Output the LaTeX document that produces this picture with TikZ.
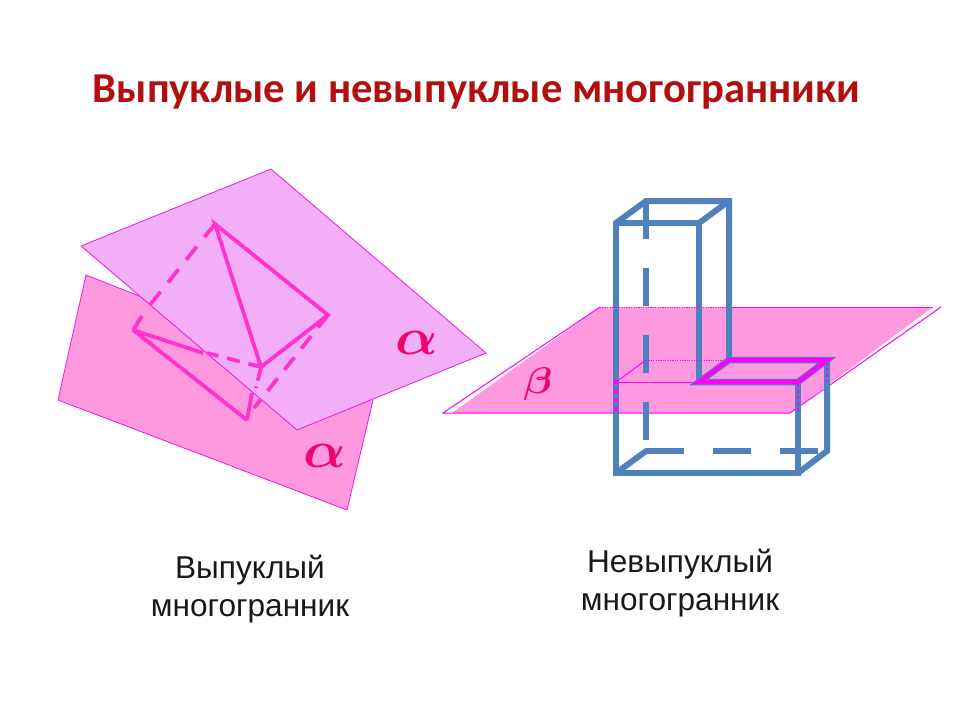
\documentclass[tikz,border=0pt]{standalone}
\usepackage{fontspec}
\usepackage{graphicx}
\setmainfont{Liberation Sans}
\newfontfamily\titlefont{Carlito}
\definecolor{planelow}{HTML}{FF99DF}
\definecolor{planeup}{HTML}{F2AEF6}
\definecolor{planeedge}{HTML}{E61CE6}
\definecolor{tetra}{HTML}{FF33CC}
\definecolor{boxblue}{HTML}{4F81BD}
\definecolor{magentaline}{HTML}{FF00FF}
\definecolor{greek}{HTML}{F0056E}
\definecolor{titlered}{HTML}{B30F0F}
\tikzset{
  tetraline/.style={draw=tetra,line width=3.8pt,line cap=butt},
  tetradash/.style={tetraline,dash pattern=on 17pt off 12pt},
  boxline/.style={draw=boxblue,line width=6pt,line cap=round},
  boxdash/.style={draw=boxblue,line width=6pt,dash pattern=on 38pt off 29pt},
  thinmag/.style={draw=magentaline,line width=1pt},
  dotmag/.style={draw=magentaline,line width=1pt,dash pattern=on 1.2pt off 1.2pt},
  thickdot/.style={draw=magentaline,line width=4pt,dash pattern=on 4pt off 5pt},
  capt/.style={font=\fontsize{31.6}{38}\selectfont,align=center,text=black!90,inner sep=0pt},
  greeklabel/.style={text=greek,inner sep=0pt}
}
\begin{document}
\begin{tikzpicture}[x=1pt,y=-1pt]
\useasboundingbox (0,0) rectangle (960,720);
% title
\node[inner sep=0pt,text=titlered,font=\titlefont\bfseries\fontsize{42.6}{46}\selectfont] (title) at (476.5,92) {Выпуклые и невыпуклые многогранники};
% left: lower plane
\path[fill=planelow,draw=planeedge,line width=0.8pt] (86,275) -- (58,400) -- (347,510) -- (373,400) -- (200,320) -- cycle;
% tetrahedron parts on the lower plane
\coordinate (A) at (215,224);
\coordinate (R) at (328,315);
\coordinate (B) at (261,367);
\coordinate (L) at (133,330);
\coordinate (D) at (247,420);
\draw[tetraline] (L) -- (D);
\draw[tetraline] (L) -- (203,353);
\draw[tetraline] (D) -- (252,393);
\draw[tetraline] (L) -- (142,316);
% left: upper plane
\path[fill=planeup,draw=planeedge,line width=0.8pt] (271,169) -- (81,246) -- (297,430) -- (486,353) -- cycle;
% tetrahedron on the upper plane
\draw[tetraline] (B) -- (A) -- (R) -- cycle;
\draw[tetradash] (A) -- (149,306);
\draw[tetraline,dash pattern=on 13pt off 9pt] (B) -- (207,353);
\draw[tetraline,dash pattern=on 14pt off 6pt] (B) -- (256,388);
\draw[tetraline,dash pattern=on 16pt off 11pt] (R) -- (254,408);
\node[greeklabel] (alphaup) at (417,343) {\scalebox{5.6}[5.2]{\boldmath$\alpha$}};
\node[greeklabel] (alphalow) at (325,456) {\scalebox{5.6}[5.2]{\boldmath$\alpha$}};
% right: plane
\path[fill=planelow] (600,307) -- (933,307) -- (790,413) -- (452,413) -- cycle;
\draw[thinmag] (600,307) -- (443,413) -- (790,413);
\draw[thinmag] (729,307) -- (933,307);
\draw[thinmag] (941,307) -- (790,413);
\node[greeklabel] (beta) at (538,384) {\scalebox{4.2}[3.7]{\boldmath$\beta$}};
% right: box
\draw[boxdash] (646,201) -- (646,451);
\draw[boxdash] (646,451) -- (827,451);
\draw[boxline] (616,223) -- (616,473) -- (798,473) -- (798,382);
\draw[boxline] (616,473) -- (646,451);
\draw[boxline] (798,473) -- (827,451) -- (827,360);
\draw[boxline] (616,223) -- (646,201) -- (729,201) -- (729,360);
\draw[boxline] (616,223) -- (699,223) -- (699,382);
\draw[boxline] (699,223) -- (729,201);
% right: magenta details
\draw[dotmag] (600,307) -- (729,307);
\draw[dotmag] (646,360) -- (729,360);
\draw[thinmag] (616,382) -- (646,360);
\draw[thinmag] (616,382) -- (699,382);
\draw[draw=boxblue,line width=6.5pt,line join=miter] (699,382) -- (798,382) -- (827,360) -- (729,360) -- cycle;
\draw[draw=magentaline,line width=4.4pt,line join=miter] (699,382) -- (798,382) -- (827,360) -- (729,360) -- cycle;
\draw[thickdot] (616,380) -- (616,413);
\draw[thickdot,line width=2.5pt,dash pattern=on 3pt off 3pt] (798,384) -- (798,412);
\draw[thickdot,line width=2.5pt,dash pattern=on 3pt off 3pt] (827,362) -- (827,382);
% captions
\node[capt] (capl) at (250,589) {Выпуклый\\многогранник};
\node[capt] (capr) at (680,583) {Невыпуклый\\многогранник};
\end{tikzpicture}
\end{document}
